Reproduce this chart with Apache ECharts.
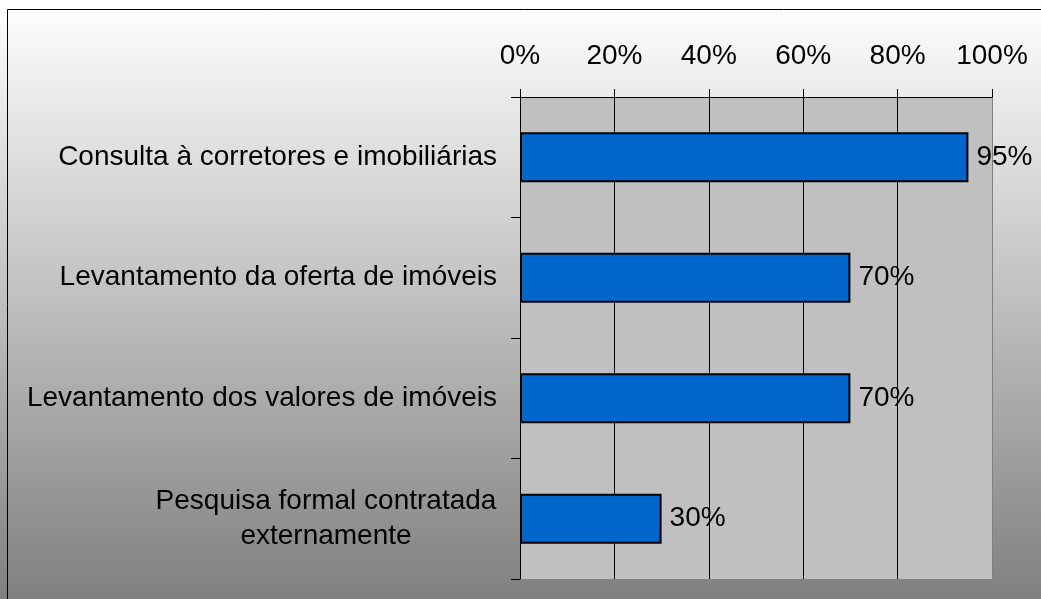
<!DOCTYPE html>
<html>
<head>
<meta charset="utf-8">
<script src="https://cdn.jsdelivr.net/npm/echarts@6/dist/echarts.min.js"></script>
<style>
html,body{margin:0;padding:0;background:#fff;}
#chart{width:1041px;height:599px;}
</style>
</head>
<body>
<div id="chart"></div>
<script>
const categories = [
  'Consulta à corretores e imobiliárias',
  'Levantamento da oferta de imóveis',
  'Levantamento dos valores de imóveis',
  'Pesquisa formal contratada\nexternamente'
];
const values = [95, 70, 70, 30];
const axisMin = 0, axisMax = 100, axisStep = 20;

const FONT = '"Liberation Sans", Arial, sans-serif';
const FS = 28;

const chart = echarts.init(document.getElementById('chart'), null, {renderer: 'canvas'});
chart.setOption({
  animation: false,
  backgroundColor: {
    type: 'linear', x: 0, y: 0, x2: 0, y2: 1,
    colorStops: [{offset: 0, color: '#ffffff'}, {offset: 1, color: '#808080'}]
  },
  graphic: [{
    type: 'rect', silent: true, z: 100,
    shape: {x: 7.5, y: 9.5, width: 1100, height: 700},
    style: {fill: 'none', stroke: '#000', lineWidth: 1}
  }],
  grid: {
    left: 520, right: 49, top: 97, bottom: 20,
    show: true, backgroundColor: '#c0c0c0', borderWidth: 0
  },
  xAxis: {
    type: 'value', position: 'top',
    min: axisMin, max: axisMax, interval: axisStep,
    axisLine: {show: true, lineStyle: {color: '#000', width: 1}},
    axisTick: {show: true, length: 8, lineStyle: {color: '#000'}},
    axisLabel: {
      formatter: '{value}%', color: '#000', fontFamily: FONT, fontSize: FS, margin: 27
    },
    splitLine: {show: true, lineStyle: {color: ['#000','#000','#000','#000','#000','#808080'], width: 1}}
  },
  yAxis: {
    type: 'category', inverse: true, data: categories,
    axisLine: {show: true, lineStyle: {color: '#000', width: 1}},
    axisTick: {show: true, length: 9, alignWithLabel: false, lineStyle: {color: '#000'}},
    axisLabel: {
      color: '#000', fontFamily: FONT, fontSize: FS, margin: 23, lineHeight: 35,
      formatter: function (v) {
        if (v.indexOf('\n') >= 0) {
          return v.split('\n').map(s => '{c|' + s + '}').join('\n');
        }
        return v;
      },
      rich: {
        c: {width: 342, align: 'center', fontFamily: FONT, fontSize: FS, color: '#000', lineHeight: 35}
      }
    },
    splitLine: {show: false}
  },
  series: [{
    type: 'bar',
    data: values,
    barWidth: 50,
    itemStyle: {color: '#0066cc', borderColor: '#000', borderWidth: 2},
    label: {
      show: true, position: 'right', distance: 8,
      formatter: '{c}%', color: '#000', fontFamily: FONT, fontSize: FS
    },
    z: 3
  }]
});
</script>
</body>
</html>
